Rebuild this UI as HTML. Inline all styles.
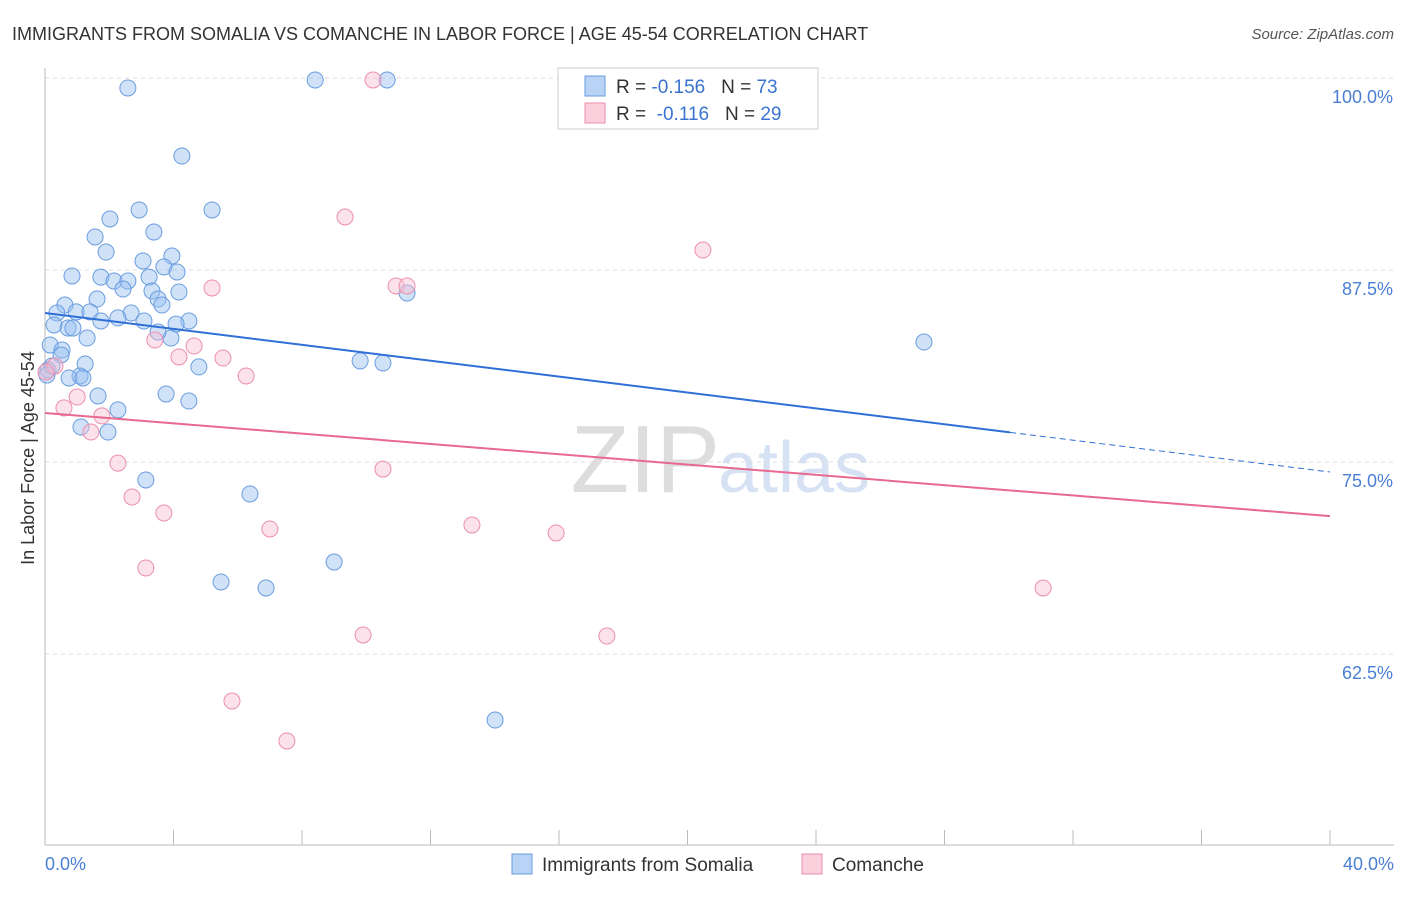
<!DOCTYPE html>
<html><head><meta charset="utf-8"><style>
body{margin:0;background:#fff;font-family:"Liberation Sans",sans-serif;}
svg text{font-family:"Liberation Sans",sans-serif;}
</style></head><body>
<svg id="c" width="1406" height="892">
<text x="12" y="40" font-size="18" fill="#333">IMMIGRANTS FROM SOMALIA VS COMANCHE IN LABOR FORCE | AGE 45-54 CORRELATION CHART</text>
<text x="1394" y="39" font-size="15" fill="#555" font-style="italic" text-anchor="end">Source: ZipAtlas.com</text>
<text x="720" y="492" font-size="96" fill="#ddd" text-anchor="end" font-family="Liberation Serif">ZIP</text>
<text x="718" y="492" font-size="72" fill="#d6e2f3">atlas</text>
<g id="grid"></g><g id="pts"></g><g id="lines"></g>
<text x="34" y="458" font-size="18" fill="#333" text-anchor="middle" transform="rotate(-90 34 458)">In Labor Force | Age 45-54</text>
<text x="45" y="870" font-size="18" fill="#4a7fd4">0.0%</text>
<text x="1394" y="870" font-size="18" fill="#4a7fd4" text-anchor="end">40.0%</text>
<g>
<rect x="558" y="68" width="260" height="61" fill="#fff" stroke="#ccc"/>
<rect x="585" y="76" width="20" height="20" fill="#b8d3f5" stroke="#6a9de0"/>
<rect x="585" y="103" width="20" height="20" fill="#fbcfdc" stroke="#eb8fae"/>
<text x="616" y="93" font-size="19" fill="#333">R = <tspan fill="#3a74d0">-0.156</tspan>&#160;&#160;&#160;N = <tspan fill="#3a74d0">73</tspan></text>
<text x="616" y="120" font-size="19" fill="#333">R = &#160;<tspan fill="#3a74d0">-0.116</tspan>&#160;&#160;&#160;N = <tspan fill="#3a74d0">29</tspan></text>
</g>
<g><rect x="512" y="854" width="20" height="20" fill="#b8d3f5" stroke="#6a9de0"/><text x="542" y="871" font-size="19" fill="#333">Immigrants from Somalia</text></g>
<g><rect x="802" y="854" width="20" height="20" fill="#fbcfdc" stroke="#eb8fae"/><text x="832" y="871" font-size="19" fill="#333">Comanche</text></g>
</svg>
<script>
const blueX=[2.58,8.41,10.65,4.26,5.20,2.93,2.02,3.39,1.56,1.90,3.95,3.05,3.70,0.84,1.74,2.15,2.58,3.24,4.11,2.43,3.33,4.17,1.62,3.52,3.64,0.62,11.27,0.37,0.97,1.40,2.68,2.27,1.74,3.08,4.48,4.08,0.28,0.72,0.87,1.31,3.92,3.52,0.16,0.53,0.50,9.81,10.52,4.79,1.25,1.09,0.75,1.18,27.36,3.77,4.48,1.65,2.27,1.12,1.96,3.14,6.38,9.00,5.48,6.88,14.01,0.09,0.22,0.06];
const blueY=[99.35,99.87,99.87,94.92,91.41,91.41,90.82,89.97,89.65,88.67,88.41,88.09,87.70,87.11,87.04,86.78,86.78,87.04,87.37,86.26,86.13,86.07,85.61,85.61,85.22,85.22,86.00,84.70,84.77,84.77,84.70,84.38,84.18,84.18,84.18,83.98,83.92,83.72,83.72,83.07,83.07,83.46,82.62,82.29,81.97,81.58,81.45,81.19,81.38,80.60,80.47,80.47,82.81,79.43,78.97,79.30,78.39,77.28,76.95,73.83,72.92,68.49,67.19,66.80,58.20,80.99,81.25,80.66];
const pinkX=[10.21,9.34,20.48,5.20,10.93,11.27,3.42,4.64,4.17,5.54,6.26,0.31,0.03,0.59,1.00,1.77,1.43,2.27,10.52,2.71,3.70,7.00,13.29,15.91,3.14,31.07,9.90,17.49,5.82,7.53];
const pinkY=[99.87,90.95,88.80,86.33,86.46,86.46,82.94,82.55,81.84,81.77,80.60,81.25,80.86,78.52,79.23,78.00,76.95,74.93,74.54,72.72,71.68,70.64,70.90,70.38,68.10,66.80,63.74,63.67,59.44,56.84];
const yTicks=[100,87.5,75,62.5];
const yTickLabels=["100.0%","87.5%","75.0%","62.5%"];
const blueTrend=[84.70,74.35];
const pinkTrend=[78.19,71.48];
const blueSolidEnd=30.04;
const NS='http://www.w3.org/2000/svg';
const sx=v=>45+v/40*1285, sy=v=>78+(100-v)*15.36;
function mk(t,a,p){const e=document.createElementNS(NS,t);for(const k in a)e.setAttribute(k,a[k]);p.appendChild(e);return e;}
const g=document.getElementById('grid');
yTicks.forEach((t,i)=>{
 const l=mk('line',{x1:45,x2:1394,y1:sy(t),y2:sy(t),stroke:'#ddd','stroke-dasharray':'4,4'},g);
 
 
 const tx=mk('text',{x:1393,y:sy(t)+25,'font-size':18,fill:'#4a7fd4','text-anchor':'end'},g);
 tx.textContent=yTickLabels[i];
 
 
});
const ax=mk('line',{x1:45,x2:45,y1:68,y2:845,stroke:'#bbb'},g);


const bx=mk('line',{x1:45,x2:1394,y1:845,y2:845,stroke:'#bbb'},g);


for(let i=0;i<=10;i++){const t=mk('line',{x1:sx(i*4),x2:sx(i*4),y1:830,y2:845,stroke:'#bbb'},g);
 
 }
const p=document.getElementById('pts');
blueX.forEach((x,i)=>{const c=mk('circle',{cx:sx(x),cy:sy(blueY[i]),r:8,fill:'rgba(150,190,240,0.45)',stroke:'#6a9de0','stroke-width':1},p);
 
 });
pinkX.forEach((x,i)=>{const c=mk('circle',{cx:sx(x),cy:sy(pinkY[i]),r:8,fill:'rgba(248,190,210,0.45)',stroke:'#eb8fae','stroke-width':1},p);
 
 });
const L=document.getElementById('lines');
const by=x=>blueTrend[0]+(blueTrend[1]-blueTrend[0])*x/40;
const l1=mk('line',{x1:sx(0),y1:sy(by(0)),x2:sx(blueSolidEnd),y2:sy(by(blueSolidEnd)),stroke:'#2f6fd6','stroke-width':2},L);


const l2=mk('line',{x1:sx(blueSolidEnd),y1:sy(by(blueSolidEnd)),x2:sx(40),y2:sy(by(40)),stroke:'#2f6fd6','stroke-width':1,'stroke-dasharray':'6,4'},L);


const l3=mk('line',{x1:sx(0),y1:sy(pinkTrend[0]),x2:sx(40),y2:sy(pinkTrend[1]),stroke:'#e7698f','stroke-width':2},L);


</script>
</body></html>
